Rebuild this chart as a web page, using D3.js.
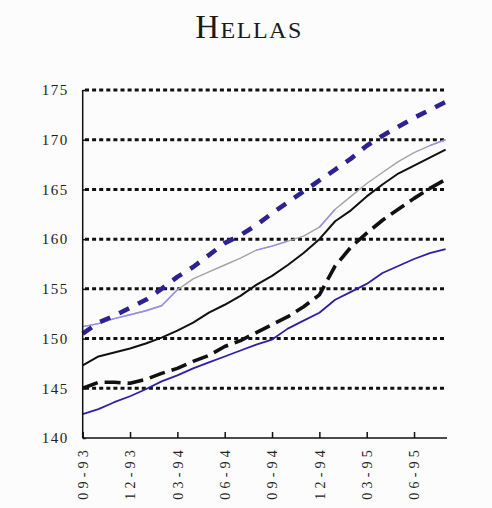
<!DOCTYPE html>
<html>
<head>
<meta charset="utf-8">
<script src="https://cdn.jsdelivr.net/npm/d3@7"></script>
<style>
  html, body { margin: 0; padding: 0; background: #fcfcfc; }
  svg { display: block; }
</style>
</head>
<body>
<svg id="chart" width="492" height="508"></svg>
<script>
// ---- data ----
const titleCap = "H";
const titleRest = "ELLAS";
const months = ["09-93","10-93","11-93","12-93","01-94","02-94","03-94","04-94","05-94","06-94","07-94","08-94",
                "09-94","10-94","11-94","12-94","01-95","02-95","03-95","04-95","05-95","06-95","07-95","08-95"];
const tickLabels = ["09-93","12-93","03-94","06-94","09-94","12-94","03-95","06-95"];
const yTicks = [140,145,150,155,160,165,170,175];
const gridValues = [145,150,155,160,165,170,175];

const navyDashed = [150.5,151.6,152.3,153.1,153.9,155.0,156.2,157.2,158.4,159.6,160.4,161.4,
                    162.6,163.7,164.8,165.9,167.0,168.1,169.4,170.4,171.3,172.2,173.0,173.8];
const greyLine   = [151.2,151.5,152.0,152.4,152.8,153.3,154.9,156.0,156.7,157.4,158.1,158.9,
                    159.3,159.8,160.3,161.2,163.0,164.3,165.6,166.7,167.8,168.7,169.4,170.0];
const lavender   = [151.2,151.5,152.0,152.4,152.8,153.3,154.9,null,null,null,null,158.9,
                    159.3,159.8,null,161.2,163.0,null,null,null,null,null,169.4,170.0];
const blackSolid = [147.3,148.2,148.6,149.0,149.5,150.1,150.8,151.6,152.6,153.4,154.3,155.4,
                    156.3,157.4,158.6,160.0,161.8,162.9,164.3,165.5,166.6,167.4,168.2,169.0];
const blackDashed= [145.0,145.6,145.6,145.5,145.9,146.5,147.0,147.7,148.3,149.2,149.8,150.6,
                    151.4,152.2,153.2,154.4,157.3,159.2,160.6,161.9,163.0,164.1,165.1,166.0];
const blueSolid  = [142.4,142.9,143.6,144.2,144.9,145.7,146.3,147.0,147.6,148.2,148.8,149.4,
                    149.9,151.0,151.8,152.6,153.9,154.7,155.5,156.6,157.3,158.0,158.6,159.0];

// ---- chart ----
const svg = d3.select("#chart");
const serif = "'Liberation Serif', 'DejaVu Serif', serif";

const x = d3.scalePoint().domain(months).range([82.7, 445.6]);
const y = d3.scaleLinear().domain([140, 175]).range([438, 90]);

// title
const title = svg.append("text")
  .attr("x", 249).attr("y", 38)
  .attr("text-anchor", "middle")
  .style("font-family", serif)
  .style("fill", "#1a1a1a")
  .style("letter-spacing", "1.5px");
title.append("tspan").style("font-size", "33px").text(titleCap);
title.append("tspan").style("font-size", "24px").text(titleRest);

// gridlines
svg.append("g").selectAll("line").data(gridValues).join("line")
  .attr("x1", 85).attr("x2", 446)
  .attr("y1", d => y(d)).attr("y2", d => y(d))
  .attr("stroke", "#111").attr("stroke-width", 3)
  .attr("stroke-dasharray", "4,3.1");

// series
const line = d3.line()
  .defined(d => d.v != null)
  .x(d => x(d.m)).y(d => y(d.v));
const toPts = arr => arr.map((v, i) => ({ m: months[i], v }));

const series = [
  { data: greyLine,    color: "#a3a3a3", width: 1.4, dash: null },
  { data: lavender,    color: "#9a8ff0", width: 1.4, dash: null },
  { data: blueSolid,   color: "#2d1fa6", width: 1.8, dash: null },
  { data: blackSolid,  color: "#111111", width: 2.0, dash: null },
  { data: blackDashed, color: "#111111", width: 3.6, dash: "16,7" },
  { data: navyDashed,  color: "#2e2290", width: 4.6, dash: "11,10" }
];
svg.append("g").selectAll("path").data(series).join("path")
  .attr("d", s => line(toPts(s.data)))
  .attr("fill", "none")
  .attr("stroke", s => s.color)
  .attr("stroke-width", s => s.width)
  .attr("stroke-dasharray", s => s.dash)
  .attr("stroke-linejoin", "round");

// axes
const xAxis = d3.axisBottom(x).tickValues(tickLabels).tickSizeInner(-6).tickSizeOuter(0);
const gx = svg.append("g").attr("transform", "translate(0,438)").call(xAxis);
gx.select(".domain").attr("d", "M82.7,0H447").attr("stroke", "#111").attr("stroke-width", 1.5);
gx.selectAll(".tick line").attr("stroke", "#111").attr("stroke-width", 1.5);
gx.selectAll(".tick text")
  .attr("transform", "rotate(-90)")
  .attr("x", -8).attr("y", 0).attr("dy", "0.35em")
  .style("text-anchor", "end")
  .style("font-family", serif)
  .style("font-size", "14px")
  .style("letter-spacing", "4.2px")
  .style("fill", "#222");

const yAxis = d3.axisLeft(y).tickValues(yTicks).tickSizeInner(-3).tickSizeOuter(0).tickPadding(14);
const gy = svg.append("g").attr("transform", "translate(82.7,0)").call(yAxis);
gy.select(".domain").attr("d", "M0,90V438").attr("stroke", "#111").attr("stroke-width", 1.5);
gy.selectAll(".tick line").attr("stroke", "#111").attr("stroke-width", 1.5);
gy.selectAll(".tick text")
  .style("font-family", serif)
  .style("font-size", "15px")
  .style("letter-spacing", "1.5px")
  .style("fill", "#222");
</script>
</body>
</html>
